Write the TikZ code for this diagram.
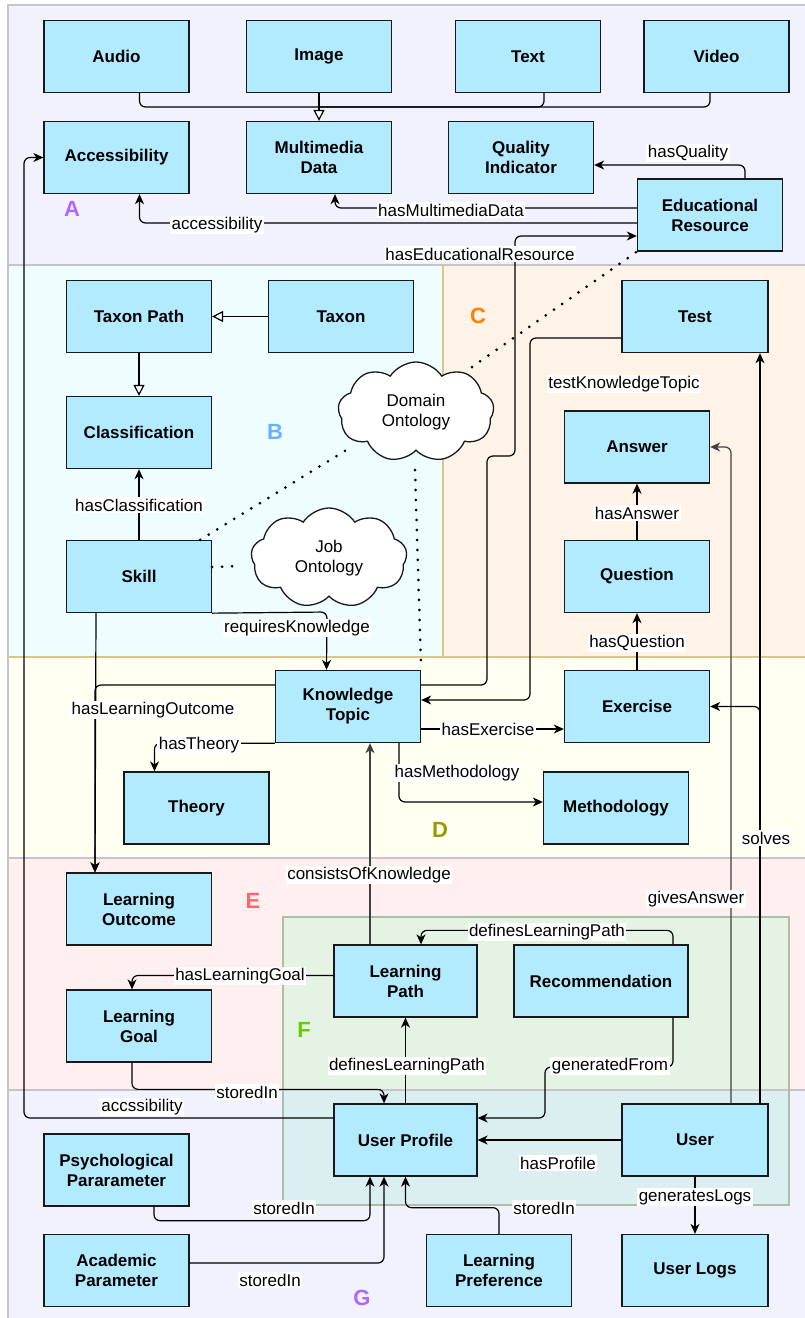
\documentclass[tikz,border=0pt]{standalone}
\usepackage{fontspec}
\setmainfont{Liberation Sans}
\usepackage{xcolor}
\usetikzlibrary{arrows.meta,shapes.symbols}

\definecolor{boxblue}{HTML}{B2EBFF}
\definecolor{regA}{HTML}{F2F2FE}
\definecolor{regB}{HTML}{EEFDFF}
\definecolor{regC}{HTML}{FFF2E6}
\definecolor{regD}{HTML}{FFFFF2}
\definecolor{regE}{HTML}{FFEFEF}
\definecolor{regF}{HTML}{E4F3E4}
\definecolor{regFG}{HTML}{DCEFF0}
\definecolor{rimgrey}{HTML}{C4C4CC}
\definecolor{rimtan}{HTML}{DCC48E}
\definecolor{rimgreen}{HTML}{A9BFAA}
\definecolor{tagpurple}{HTML}{B266FF}
\definecolor{tagblue}{HTML}{66B2FF}
\definecolor{tagorange}{HTML}{FF8000}
\definecolor{tagolive}{HTML}{999900}
\definecolor{tagred}{HTML}{FF6666}
\definecolor{taggreen}{HTML}{66CC00}

\tikzset{
  cls/.style={draw=black!90, line width=1.3pt, fill=boxblue, align=center,
    font=\bfseries\fontsize{17}{20}\selectfont,
    minimum width=145pt, minimum height=72pt, inner sep=0pt},
  onto/.style={cloud, cloud puffs=9, cloud puff arc=115, aspect=1.6,
    draw=black!90, line width=1.3pt, fill=white, align=center,
    minimum width=156pt, minimum height=100pt, inner sep=0pt,
    font=\fontsize{17}{20}\selectfont},
  lbl/.style={fill=white, inner sep=1.5pt, font=\fontsize{17}{20}\selectfont},
  tag/.style={font=\bfseries\fontsize{22}{24}\selectfont},
  link/.style={line width=1.2pt, rounded corners=6pt},
  arr/.style={link, -{Stealth[length=10pt,width=9pt,inset=3pt]}},
  gen/.style={link, -{Triangle[length=11pt,width=11pt,fill=white]}},
  dots/.style={line width=3pt, line cap=round, dash pattern=on 0pt off 10pt},
  rim/.style={line width=1.5pt, draw=rimgrey}
}

\begin{document}
\begin{tikzpicture}[x=1pt,y=-1pt]
    \useasboundingbox (0,0) rectangle (805,1318);

    % regions
    \fill[regA] (8,5) rectangle (805,265);
    \fill[regB] (8,265) rectangle (443,657);
    \fill[regC] (443,265) rectangle (805,657);
    \fill[regD] (8,657) rectangle (805,858);
    \fill[regE] (8,858) rectangle (805,1090);
    \fill[regA] (8,1090) rectangle (805,1318);
    \fill[regF] (283,917) rectangle (789,1090);
    \fill[regFG] (283,1090) rectangle (789,1205);
    \draw[rim] (8,1318) -- (8,5) -- (805,5);
    \draw[rim] (8,265) -- (805,265);
    \draw[rim, draw=rimtan] (443,265) -- (443,657);
    \draw[rim, draw=rimtan] (8,657) -- (805,657);
    \draw[rim] (8,858) -- (805,858);
    \draw[rim] (8,1090) -- (805,1090);
    \draw[rim, draw=rimgreen] (283,917) rectangle (789,1205);

    \node[tag, text=tagpurple] (tagA) at (72,209) {A};
    \node[tag, text=tagblue] (tagB) at (275,432) {B};
    \node[tag, text=tagorange] (tagC) at (478,316) {C};
    \node[tag, text=tagolive] (tagD) at (440,830) {D};
    \node[tag, text=tagred] (tagE) at (253,901) {E};
    \node[tag, text=taggreen] (tagF) at (304,1030) {F};
    \node[tag, text=tagpurple] (tagG) at (362,1298) {G};

    % resources
    \node[cls] (audio) at (116.5,56.5) {Audio};
    \node[cls] (image) at (319,56.5) {Image};
    \node[cls] (txt) at (528,56.5) {Text};
    \node[cls] (video) at (716.5,56.5) {Video};
    \node[cls] (access) at (116.5,157.5) {Accessibility};
    \node[cls] (mmdata) at (319,157.5) {Multimedia\\Data};
    \node[cls] (quality) at (521,157.5) {Quality\\Indicator};
    \node[cls] (edures) at (710,215) {Educational\\Resource};

    % skills
    \node[cls] (taxpath) at (139,316.5) {Taxon Path};
    \node[cls] (taxon) at (341,316.5) {Taxon};
    \node[cls] (classif) at (139,432.5) {Classification};
    \node[cls] (skill) at (139,576.5) {Skill};
    \node[onto] (domain) at (416,412) {Domain\\Ontology};
    \node[onto] (job) at (329,558) {Job\\Ontology};

    % tests
    \node[cls, minimum width=146pt] (test) at (695,316.5) {Test};
    \node[cls] (answer) at (637,447) {Answer};
    \node[cls] (question) at (637,576.5) {Question};

    % knowledge
    \node[cls] (ktopic) at (348,706.5) {Knowledge\\Topic};
    \node[cls] (exercise) at (637,706.5) {Exercise};
    \node[cls] (theory) at (196.5,808) {Theory};
    \node[cls] (method) at (616,808) {Methodology};

    % learning
    \node[cls] (lout) at (139,909) {Learning\\Outcome};
    \node[cls, minimum width=143pt] (lpath) at (405.5,981) {Learning\\Path};
    \node[cls, minimum width=174pt] (recom) at (601,981) {Recommendation};
    \node[cls] (lgoal) at (139,1026) {Learning\\Goal};

    % user
    \node[cls, minimum width=143pt] (uprof) at (405.5,1140) {User Profile};
    \node[cls, minimum width=146pt] (user) at (695,1140) {User};
    \node[cls] (psych) at (116.5,1170) {Psychological\\Pararameter};
    \node[cls] (acad) at (116.5,1270.5) {Academic\\Parameter};
    \node[cls] (lpref) at (499,1270.5) {Learning\\Preference};
    \node[cls, minimum width=146pt] (ulogs) at (695,1270.5) {User Logs};

    \coordinate (bus) at (319,107);
    \coordinate (dom-sw) at (348,449);
    \coordinate (dom-s) at (415,470);
    \coordinate (dom-ne) at (472,367);
    \coordinate (job-w) at (240,566);

    % multimedia
    \draw[link] ([xshift=23pt]audio.south) |- (bus);
    \draw[link] ([xshift=16pt]txt.south) |- (bus);
    \draw[link] ([xshift=-6.5pt]video.south) |- (bus);
    \draw[gen] (image.south) -- (mmdata.north);

    \draw[arr] ([xshift=35pt]edures.north) |- ([yshift=-7.5pt]quality.east);
    \draw[arr] ([yshift=7pt]edures.west) -| ([xshift=16pt]mmdata.south);
    \draw[arr] ([yshift=-8pt]edures.west) -| ([xshift=23pt]access.south);
    \draw[arr] ([yshift=21.5pt]ktopic.east) -- (487,685) -- (487,456) -- (515,456)
        -- (515,236) -- ([yshift=-21pt]edures.west);
    \draw[arr] ([yshift=22pt]uprof.west) -| (24,157.5) -- (access.west);

    % taxonomy
    \draw[gen] (taxon.west) -- (taxpath.east);
    \draw[gen] (taxpath.south) -- (classif.north);
    \draw[arr] (skill.north) -- (classif.south);
    \draw[arr] (skill.south east) -- (327,612) -- ([xshift=-21.5pt]ktopic.north);
    \draw[arr] ([xshift=-43pt]skill.south) -- ([xshift=-44pt]lout.north);
    \draw[arr] ([yshift=21.5pt]ktopic.west) -| ([xshift=-44pt]lout.north);

    \draw[dots] ([xshift=-12pt]skill.north east) -- (dom-sw);
    \draw[dots] ([yshift=9.5pt]skill.east) -- (job-w);
    \draw[dots] (dom-s) -- (ktopic.north east);
    \draw[dots] (dom-ne) -- (edures.south west);

    % knowledge topic
    \draw[arr] ([yshift=-21.5pt]test.west) -| (530,700) -- ([yshift=6.5pt]ktopic.east);
    \draw[arr] (ktopic.south west) -| ([xshift=-42pt]theory.north);
    \draw[arr] ([yshift=-22.5pt]ktopic.east) -- ([yshift=-22.5pt]exercise.west);
    \draw[arr] ([xshift=51pt]ktopic.south) |- ([yshift=6pt]method.west);
    \draw[arr] (exercise.north) -- (question.south);
    \draw[arr] (question.north) -- (answer.south);

    % user
    \draw[arr, draw=black!75] ([xshift=36pt]user.north) |- (answer.east);
    \draw[arr] ([xshift=65pt]user.north) |- (exercise.east);
    \draw[arr] ([xshift=65pt]user.north) -- ([xshift=65pt]test.south);
    \draw[arr, draw=black!75] ([xshift=-35.5pt]lpath.north) -- ([xshift=22pt]ktopic.south);
    \draw[arr] ([xshift=72pt]recom.north) -- ++(0,-14) -| ([xshift=15.5pt]lpath.north);
    \draw[arr] ([yshift=5.5pt]lpath.west) -| ([xshift=-7pt]lgoal.north);
    \draw[arr] (uprof.north) -- (lpath.south);
    \draw[arr] ([xshift=-7pt]lgoal.south) |- ([xshift=-21.5pt,yshift=14pt]uprof.north)
        -- ([xshift=-21.5pt]uprof.north);
    \draw[arr] ([xshift=72pt]recom.south) |- (545,1067) |- ([yshift=22pt]uprof.east);
    \draw[arr] (user.west) -- (uprof.east);
    \draw[arr] (user.south) -- (ulogs.north);
    \draw[arr] ([xshift=37.5pt]psych.south) |- ([xshift=-35.5pt,yshift=-44pt]uprof.south)
        -- ([xshift=-35.5pt]uprof.south);
    \draw[arr] ([yshift=7.5pt]acad.east) -| ([xshift=-21.5pt]uprof.south);
    \draw[arr] (lpref.north) |- ([yshift=-31pt]uprof.south) -- (uprof.south);

    % labels
    \node[lbl] (l-qual) at (688,153) {hasQuality};
    \node[lbl] (l-mm) at (451,210) {hasMultimediaData};
    \node[lbl] (l-acc) at (217,225) {accessibility};
    \node[lbl] (l-edu) at (480,254) {hasEducationalResource};
    \node[lbl] (l-test) at (624,384) {testKnowledgeTopic};
    \node[lbl] (l-cls) at (139,505) {hasClassification};
    \node[lbl] (l-req) at (297,628) {requiresKnowledge};
    \node[lbl] (l-ans) at (637,513) {hasAnswer};
    \node[lbl] (l-que) at (637,643) {hasQuestion};
    \node[lbl] (l-out) at (153,710) {hasLearningOutcome};
    \node[lbl] (l-exe) at (488,729) {hasExercise};
    \node[lbl] (l-the) at (199,745) {hasTheory};
    \node[lbl] (l-met) at (457,773) {hasMethodology};
    \node[lbl] (l-sol) at (766,838) {solves};
    \node[lbl] (l-con) at (369,875) {consistsOfKnowledge};
    \node[lbl] (l-giv) at (696,899) {givesAnswer};
    \node[lbl] (l-def) at (547,932) {definesLearningPath};
    \node[lbl] (l-goal) at (240,976) {hasLearningGoal};
    \node[lbl] (l-def2) at (407,1066) {definesLearningPath};
    \node[lbl] (l-gen) at (610,1066) {generatedFrom};
    \node[lbl] (l-st1) at (247,1092) {storedIn};
    \node[lbl] (l-accs) at (142,1107) {accssibility};
    \node[lbl] (l-pro) at (558,1163) {hasProfile};
    \node[lbl] (l-log) at (695,1197) {generatesLogs};
    \node[lbl] (l-st2) at (284,1208) {storedIn};
    \node[lbl] (l-st3) at (544,1208) {storedIn};
    \node[lbl] (l-st4) at (270,1280) {storedIn};
\end{tikzpicture}
\end{document}
